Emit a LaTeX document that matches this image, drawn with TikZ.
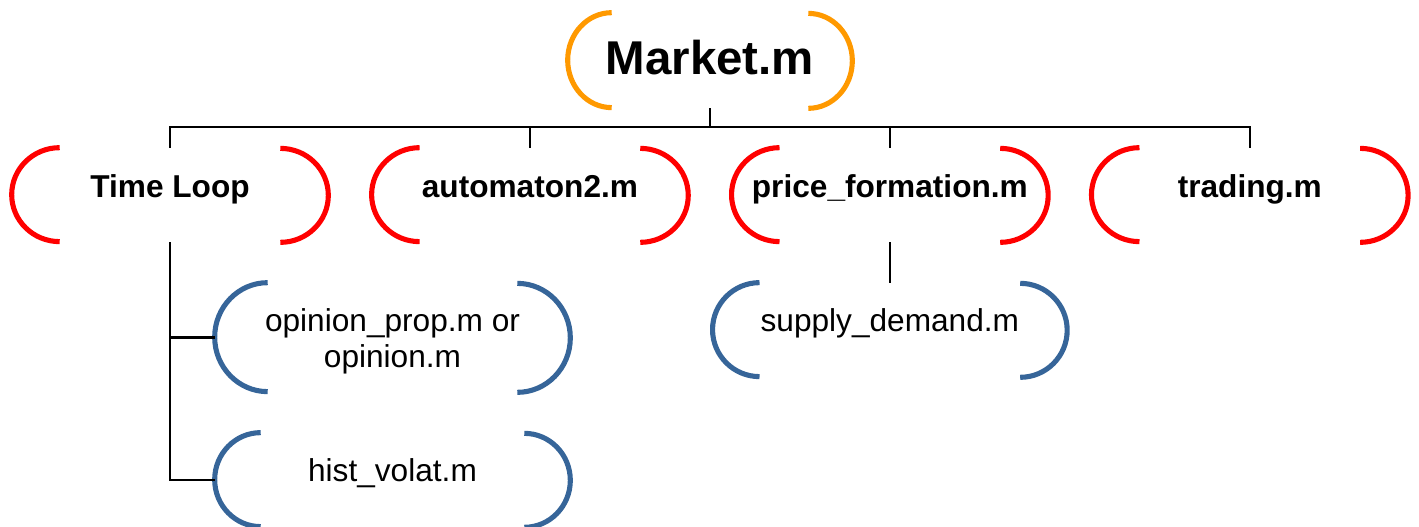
\documentclass[tikz,border=0pt]{standalone}
\usepackage{fontspec}
\setmainfont{Liberation Sans}
\usepackage{xcolor}
\usepackage{tikz}
\usetikzlibrary{positioning, calc}

\definecolor{mainOrange}{RGB}{255,153,0}
\definecolor{modRed}{RGB}{255,0,0}
\definecolor{subBlue}{RGB}{54,101,153}

% round brackets on both sides of a node: name, x radius, y radius, colour
\newcommand{\brackets}[4]{%
  \draw[#4, line width=2.9pt] ([xshift=#2]#1.north west) arc[start angle=90, end angle=270, x radius=#2, y radius=#3];
  \draw[#4, line width=2.9pt] ([xshift=-#2]#1.south east) arc[start angle=-90, end angle=90, x radius=#2, y radius=#3];
}

\begin{document}
\begin{tikzpicture}[
        x=0.02cm, y=-0.02cm,
        node distance=7.2cm,
        mainbox/.style={rectangle, inner sep=0pt, minimum width=5.68cm, minimum height=1.9cm, text height=0.68cm, text depth=0.1cm, font={\fontsize{27}{32}\selectfont\bfseries}},
        modbox/.style={rectangle, inner sep=0pt, minimum width=6.32cm, minimum height=1.88cm, text height=0.45cm, text depth=0.37cm, font={\fontsize{18}{20.5}\selectfont\bfseries}},
        subbox/.style={rectangle, inner sep=0pt, minimum width=7.08cm, minimum height=1.88cm, align=center, text height=0.45cm, text depth=0.37cm, font={\fontsize{18}{20.5}\selectfont}},
        link/.style={line width=1.3pt}
    ]
        \useasboundingbox (0,0) rectangle (1419,527);

        % Top script
        \node (market) [mainbox] at (710,60.5) {Market.m};

        % Called modules
        \node (loop) [modbox] at (170,195) {Time Loop};
        \node (auto) [modbox, right of=loop] {automaton2.m};
        \node (price) [modbox, right of=auto] {price\_formation.m};
        \node (trading) [modbox, right of=price] {trading.m};

        % Sub functions
        \node (opinion) [subbox, minimum width=7.1cm, minimum height=2.18cm, text height=1.4cm, text depth=0.18cm] at (392.5,337.5) {opinion\_prop.m or\\opinion.m};
        \node (hist) [subbox, minimum width=7.1cm, below of=opinion, node distance=2.85cm] {hist\_volat.m};
        \node (supply) [subbox, below of=price, node distance=2.7cm] {supply\_demand.m};

        % Brackets
        \brackets{market}{0.88cm}{0.95cm}{mainOrange}
        \brackets{loop}{0.96cm}{0.94cm}{modRed}
        \brackets{auto}{0.96cm}{0.94cm}{modRed}
        \brackets{price}{0.96cm}{0.94cm}{modRed}
        \brackets{trading}{0.96cm}{0.94cm}{modRed}
        \brackets{opinion}{1.06cm}{1.09cm}{subBlue}
        \brackets{hist}{0.92cm}{0.94cm}{subBlue}
        \brackets{supply}{0.94cm}{0.94cm}{subBlue}

        % Tree lines
        \draw [link] (market.south) -- ++(0,19) -| (loop.north);
        \draw [link] (market.south) -- ++(0,19) -| (auto.north);
        \draw [link] (market.south) -- ++(0,19) -| (price.north);
        \draw [link] (market.south) -- ++(0,19) -| (trading.north);

        \draw [link] (loop.south) |- (opinion.west);
        \draw [link] (loop.south) |- (hist.west);
        \draw [link] (price.south) -- (supply.north);

    \end{tikzpicture}
\end{document}
